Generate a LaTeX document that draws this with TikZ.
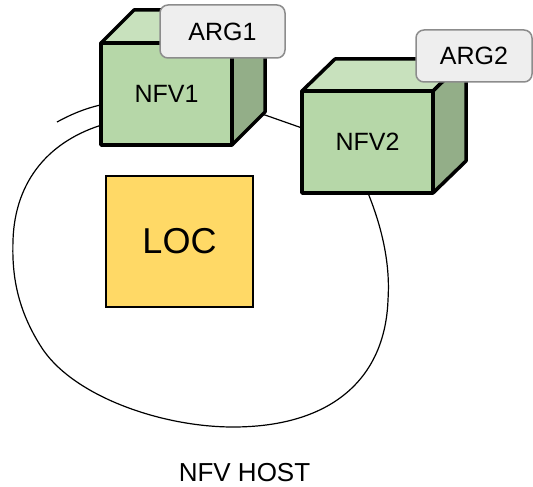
\documentclass[tikz,border=0pt]{standalone}
\usepackage{fontspec}
\setmainfont{Liberation Sans}
\usepackage{tikz}
\definecolor{frontgreen}{HTML}{B6D7A8}
\definecolor{topgreen}{HTML}{C8E1BD}
\definecolor{sidegreen}{HTML}{93AE88}
\definecolor{locyellow}{HTML}{FFD966}
\definecolor{argfill}{HTML}{EEEEEE}
\definecolor{argline}{HTML}{8C8C8C}

\begin{document}
\begin{tikzpicture}[x=1pt, y=-1pt,
		face_style/.style={draw=black, line width=3.5pt, line join=round},
		front_style/.style={face_style, fill=frontgreen, outer sep=0pt, minimum width=131pt, minimum height=102pt, font=\fontsize{25}{30}\selectfont},
		arg_style/.style={draw=argline, line width=1.5pt, fill=argfill, rounded corners=8pt, font=\fontsize{25}{30}\selectfont},
		loc_style/.style={draw=black, line width=1.3pt, fill=locyellow, minimum width=147pt, minimum height=131pt, font=\fontsize{36}{42}\selectfont},
		host_style/.style={line width=1.2pt}]

	\useasboundingbox (0,0) rectangle (533,487);

	% host outline (behind the boxes)
	\draw[host_style] (57,122) .. controls (70,115) and (85,108) .. (105,104)
		-- (265,115) -- (302,128) -- (368,193)
		.. controls (385,235) and (390,270) .. (388,300)
		.. controls (385,380) and (330,427) .. (233,427)
		.. controls (160,427) and (70,395) .. (40,345)
		.. controls (15,305) and (12,270) .. (13,240)
		.. controls (15,180) and (50,140) .. (105,124);

	\node[loc_style] (loc) at (179.5,241.5) {LOC};

	\node[front_style] (nfv1) at (166.5,94) {NFV1};
	\draw[face_style, fill=topgreen] (nfv1.north west) -- ++(33,-33) -- ++(131,0) -- (nfv1.north east) -- cycle;
	\draw[face_style, fill=sidegreen] (nfv1.north east) -- ++(33,-33) -- ++(0,102) -- (nfv1.south east) -- cycle;
	\node[arg_style, minimum width=125pt, minimum height=53pt] (arg1) at (222.5,31.5) {ARG1};

	\node[front_style] (nfv2) at (367.5,142) {NFV2};
	\draw[face_style, fill=topgreen] (nfv2.north west) -- ++(33,-32) -- ++(131,0) -- (nfv2.north east) -- cycle;
	\draw[face_style, fill=sidegreen] (nfv2.north east) -- ++(33,-32) -- ++(0,102) -- (nfv2.south east) -- cycle;
	\node[arg_style, minimum width=116pt, minimum height=52pt] (arg2) at (474,56) {ARG2};

	\node[font=\fontsize{26}{31}\selectfont] (host) at (244.5,473) {NFV HOST};
\end{tikzpicture}
\end{document}
